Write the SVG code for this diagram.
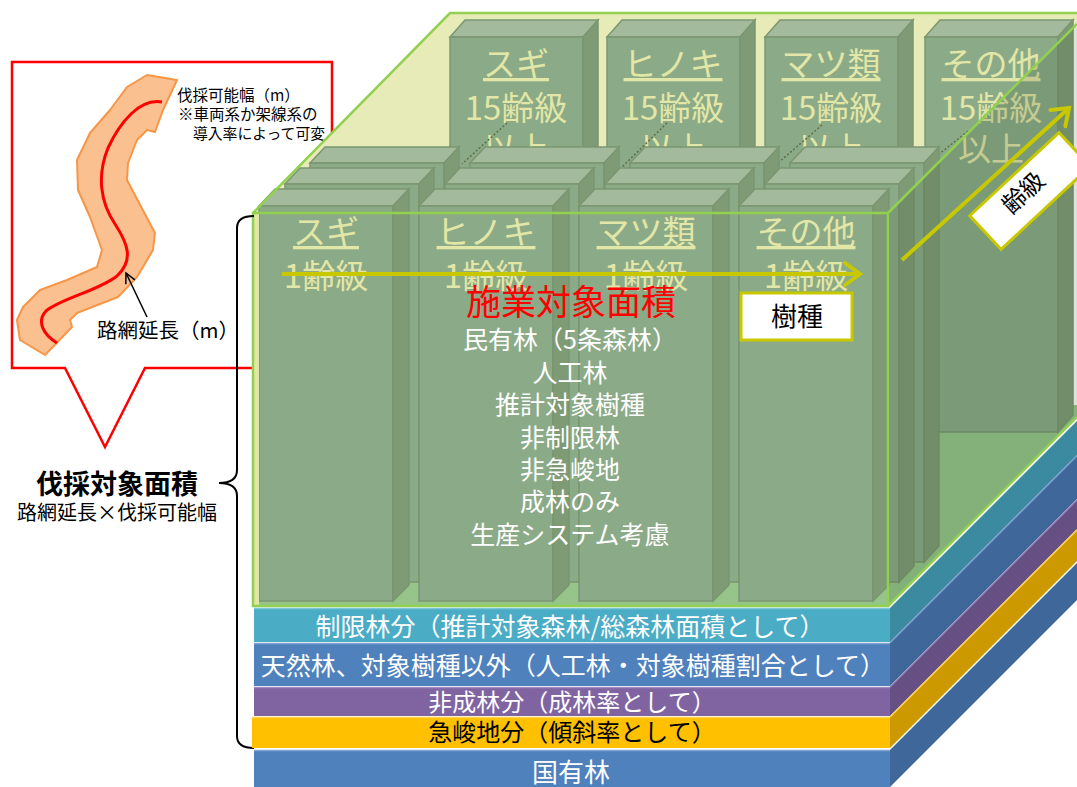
<svg xmlns="http://www.w3.org/2000/svg" width="1077" height="787" viewBox="0 0 1077 787">
<style>
text{font-family:'Noto Sans CJK JP','Noto Sans',sans-serif}
.bf{fill:#8baa87;stroke:#7b9670;stroke-width:1.5}
.bt{fill:#a3ba9c;stroke:#7b9670;stroke-width:1.5}
.bs{fill:#7f9b76;stroke:#7b9670;stroke-width:1.5}
.lab{fill:#e2e6a6;font-size:33px;text-anchor:middle}
.ul{text-decoration:underline}
.edge{stroke:#92d050;stroke-width:2.5;fill:none}
.wt{fill:#ffffff;font-size:25px;text-anchor:middle}
.lt{font-size:24px;text-anchor:middle}
.dot{stroke:#5e6e4a;stroke-width:1.5;stroke-dasharray:2 2}
</style>
<defs>
<marker id="ah" markerUnits="userSpaceOnUse" viewBox="0 0 24 30" markerWidth="24" markerHeight="30" refX="19" refY="15" orient="auto">
<path d="M4,4 L19,15 L4,26" fill="none" stroke="#c8c800" stroke-width="4" stroke-linecap="round"/>
</marker>
<marker id="bh" markerUnits="userSpaceOnUse" viewBox="0 0 14 14" markerWidth="14" markerHeight="14" refX="12" refY="7" orient="auto">
<path d="M2,2 L12,7 L2,12" fill="none" stroke="#000" stroke-width="1.5"/>
</marker>
</defs>

<g id="callout">
<path d="M12,62 L332,62 L332,368 L145,368 L105,447 L65,368 L12,368 Z" fill="#ffffff" stroke="#ff0000" stroke-width="2.5"/>
<polygon points="147,75 177,80 163,110 155,132 147,130 137,140 128,163 127,180 155,233 153,250 137,277 118,297 77,313 70,320 72,327 45,355 20,340 17,320 23,307 40,290 67,280 97,267 102,250 90,217 78,190 77,160 90,133 110,110 127,87" fill="#fac090" stroke="#f79646" stroke-width="2" stroke-linejoin="round"/>
<path d="M162,102 C140,98 120,122 108,148 C97,175 100,202 115,224 C128,244 134,260 117,276 C98,291 62,298 46,311 C36,322 44,335 57,343" fill="none" stroke="#ff0000" stroke-width="3"/>
<line x1="147" y1="317" x2="126" y2="273" stroke="#000" stroke-width="1.5" marker-end="url(#bh)"/>
<text x="177" y="101" font-size="15.5" fill="#000">伐採可能幅（m）</text>
<text x="178" y="120" font-size="15.5" fill="#000">※車両系か架線系の</text>
<text x="193" y="139" font-size="14.8" fill="#000">導入率によって可変</text>
<text x="97" y="338" font-size="20.5" fill="#000">路網延長（m）</text>
</g>

<g id="left-label">
<text x="117" y="494" font-size="27" font-weight="bold" text-anchor="middle" fill="#000">伐採対象面積</text>
<text x="117" y="520" font-size="20" text-anchor="middle" fill="#000">路網延長×伐採可能幅</text>
</g>

<g id="cube-back">
<polygon points="253,213 450,13 1077,13 1077,24 888,213" fill="#e7ebb7"/>
<polygon points="253,605 450,405 1077,405 1077,417 888,606" fill="#96c48a"/>
</g>

<g id="back-row">
<polygon class="bt" points="450,37 465,20 598,20 583,37"/><rect class="bf" x="450" y="37" width="133" height="395"/><polygon class="bs" points="583,37 598,20 598,415 583,432"/>
<polygon class="bt" points="607,37 622,20 755,20 740,37"/><rect class="bf" x="607" y="37" width="133" height="395"/><polygon class="bs" points="740,37 755,20 755,415 740,432"/>
<polygon class="bt" points="765,37 780,20 913,20 898,37"/><rect class="bf" x="765" y="37" width="133" height="395"/><polygon class="bs" points="898,37 913,20 913,415 898,432"/>
<polygon class="bt" points="925,37 940,20 1073,20 1058,37"/><rect class="bf" x="925" y="37" width="133" height="395"/><polygon class="bs" points="1058,37 1073,20 1073,415 1058,432"/>
<text class="lab ul" x="516" y="76">スギ</text><text class="lab" x="516" y="120">15齢級</text><text class="lab" x="516" y="161">以上</text>
<text class="lab ul" x="673" y="76">ヒノキ</text><text class="lab" x="673" y="120">15齢級</text><text class="lab" x="673" y="161">以上</text>
<text class="lab ul" x="831" y="76">マツ類</text><text class="lab" x="831" y="120">15齢級</text><text class="lab" x="831" y="161">以上</text>
<text class="lab ul" x="991" y="76">その他</text><text class="lab" x="991" y="120">15齢級</text><text class="lab" x="991" y="161">以上</text>
</g>

<g id="depth-dots">
<line class="dot" x1="507" y1="123" x2="462" y2="164"/>
<line class="dot" x1="667" y1="123" x2="622" y2="167"/>
<line class="dot" x1="822" y1="125" x2="778" y2="163"/>
<line class="dot" x1="968" y1="131" x2="938" y2="155"/>
</g>

<g id="row3">
<polygon class="bt" points="310,163 325,147 459,147 444,163"/><rect class="bf" x="310" y="163" width="134" height="399"/><polygon class="bs" points="444,163 459,147 459,546 444,562"/>
<polygon class="bt" points="470,163 485,147 619,147 604,163"/><rect class="bf" x="470" y="163" width="134" height="399"/><polygon class="bs" points="604,163 619,147 619,546 604,562"/>
<polygon class="bt" points="630,163 645,147 779,147 764,163"/><rect class="bf" x="630" y="163" width="134" height="399"/><polygon class="bs" points="764,163 779,147 779,546 764,562"/>
<polygon class="bt" points="790,163 805,147 939,147 924,163"/><rect class="bf" x="790" y="163" width="134" height="399"/><polygon class="bs" points="924,163 939,147 939,546 924,562"/>
</g>

<g id="row2">
<polygon class="bt" points="285,184 300,168 434,168 419,184"/><rect class="bf" x="285" y="184" width="134" height="398"/><polygon class="bs" points="419,184 434,168 434,566 419,582"/>
<polygon class="bt" points="445,184 460,168 594,168 579,184"/><rect class="bf" x="445" y="184" width="134" height="398"/><polygon class="bs" points="579,184 594,168 594,566 579,582"/>
<polygon class="bt" points="605,184 620,168 754,168 739,184"/><rect class="bf" x="605" y="184" width="134" height="398"/><polygon class="bs" points="739,184 754,168 754,566 739,582"/>
<polygon class="bt" points="765,184 780,168 914,168 899,184"/><rect class="bf" x="765" y="184" width="134" height="398"/><polygon class="bs" points="899,184 914,168 914,566 899,582"/>
</g>

<g id="row1">
<polygon class="bt" points="259,206 275,189 409,189 393,206"/><rect class="bf" x="259" y="206" width="134" height="395"/><polygon class="bs" points="393,206 409,189 409,585 393,601"/>
<polygon class="bt" points="419,206 435,189 569,189 553,206"/><rect class="bf" x="419" y="206" width="134" height="395"/><polygon class="bs" points="553,206 569,189 569,585 553,601"/>
<polygon class="bt" points="579,206 595,189 729,189 713,206"/><rect class="bf" x="579" y="206" width="134" height="395"/><polygon class="bs" points="713,206 729,189 729,585 713,601"/>
<polygon class="bt" points="739,206 755,189 889,189 873,206"/><rect class="bf" x="739" y="206" width="134" height="395"/><polygon class="bs" points="873,206 889,189 889,585 873,601"/>
<text class="lab ul" x="326" y="244">スギ</text><text class="lab" x="326" y="288">1齢級</text>
<text class="lab ul" x="486" y="244">ヒノキ</text><text class="lab" x="486" y="288">1齢級</text>
<text class="lab ul" x="646" y="244">マツ類</text><text class="lab" x="646" y="288">1齢級</text>
<text class="lab ul" x="806" y="244">その他</text><text class="lab" x="806" y="288">1齢級</text>
</g>

<g id="cube-faces">
<polygon points="888,213 1077,24 1077,417 888,606" fill="#2f4d2c" fill-opacity="0.17"/>
<rect x="253" y="213" width="6" height="392" fill="#dfe6a6"/>
<polyline class="edge" points="253,213 450,13 1077,13"/>
<line class="edge" x1="888" y1="213" x2="1077" y2="24"/>
<line class="edge" x1="888" y1="606" x2="1077" y2="417"/>
<rect class="edge" x="253" y="213" width="635" height="393"/>
</g>

<g id="connectors">
<line x1="282" y1="274" x2="860" y2="274" stroke="#c8c800" stroke-width="4" marker-end="url(#ah)"/>
<line x1="902" y1="260" x2="1069" y2="108" stroke="#c8c800" stroke-width="4" marker-end="url(#ah)"/>
<path d="M254,216 Q237,216 237,228 L237,470 Q237,483 219,483 Q237,483 237,496 L237,736 Q237,748 254,748" fill="none" stroke="#000" stroke-width="2"/>
</g>

<g id="center-text">
<text x="571" y="315" font-size="35" fill="#ff0000" text-anchor="middle">施業対象面積</text>
<text class="wt" x="570" y="349">民有林（5条森林）</text>
<text class="wt" x="570" y="382">人工林</text>
<text class="wt" x="570" y="414">推計対象樹種</text>
<text class="wt" x="570" y="447">非制限林</text>
<text class="wt" x="570" y="479">非急峻地</text>
<text class="wt" x="570" y="511">成林のみ</text>
<text class="wt" x="570" y="544">生産システム考慮</text>
</g>

<g id="label-jushu">
<rect x="741" y="293" width="111" height="47" fill="#ffffff" stroke="#c8c800" stroke-width="3"/>
<text x="797" y="326" font-size="26" text-anchor="middle" fill="#000">樹種</text>
</g>

<g id="label-reikyu" transform="translate(1030,191) rotate(-43)">
<rect x="-61" y="-23" width="122" height="46" fill="#ffffff" stroke="#c8c800" stroke-width="3"/>
<text x="-6" y="5" font-size="24" text-anchor="middle" fill="#000">齢級</text>
</g>

<g id="layer-seigen">
<polygon points="890,608 1077,421 1077,455 890,642" fill="#3b8aa0"/>
<rect x="254" y="608" width="636" height="34" fill="#4bacc6"/>
<line x1="254" y1="608.5" x2="890" y2="608.5" stroke="#7cc5d9" stroke-width="1.5"/>
<text class="lt" x="570" y="636" fill="#ffffff" style="font-size:25px">制限林分（推計対象森林/総森林面積として）</text>
</g>
<g id="layer-tennen">
<polygon points="890,643 1077,456 1077,499 890,686" fill="#3f6799"/>
<rect x="254" y="643" width="636" height="43" fill="#4f81bd"/>
<line x1="254" y1="643.5" x2="890" y2="643.5" stroke="#7fa3d3" stroke-width="1.5"/>
<line x1="890" y1="643" x2="1077" y2="456" stroke="#6f96c8" stroke-width="1.5"/>
<text class="lt" x="573" y="675" fill="#ffffff" style="font-size:25px">天然林、対象樹種以外（人工林・対象樹種割合として）</text>
</g>
<g id="layer-hiseirin">
<polygon points="890,687 1077,500 1077,529 890,716" fill="#664f83"/>
<rect x="254" y="687" width="636" height="29" fill="#8064a2"/>
<line x1="254" y1="687.5" x2="890" y2="687.5" stroke="#a08cc0" stroke-width="1.5"/>
<line x1="890" y1="687" x2="1077" y2="500" stroke="#9a84b8" stroke-width="1.5"/>
<text class="lt" x="572" y="711" fill="#ffffff" style="font-size:24px">非成林分（成林率として）</text>
</g>
<g id="layer-kyushun">
<polygon points="890,717 1077,530 1077,561 890,748" fill="#cc9900"/>
<rect x="252" y="717" width="638" height="31" fill="#ffc000"/>
<line x1="252" y1="717.5" x2="890" y2="717.5" stroke="#ffd24d" stroke-width="1.5"/>
<line x1="890" y1="717" x2="1077" y2="530" stroke="#ffd24d" stroke-width="1.5"/>
<text class="lt" x="572" y="741" fill="#000000" style="font-size:24px">急峻地分（傾斜率として）</text>
</g>
<g id="layer-kokuyu">
<polygon points="890,750 1077,563 1077,600 890,787" fill="#3f6799"/>
<rect x="254" y="750" width="636" height="37" fill="#4f81bd"/>
<line x1="254" y1="750.5" x2="890" y2="750.5" stroke="#7fa3d3" stroke-width="1.5"/>
<text class="lt" x="571" y="782" fill="#ffffff" style="font-size:26px">国有林</text>
</g>
</svg>
